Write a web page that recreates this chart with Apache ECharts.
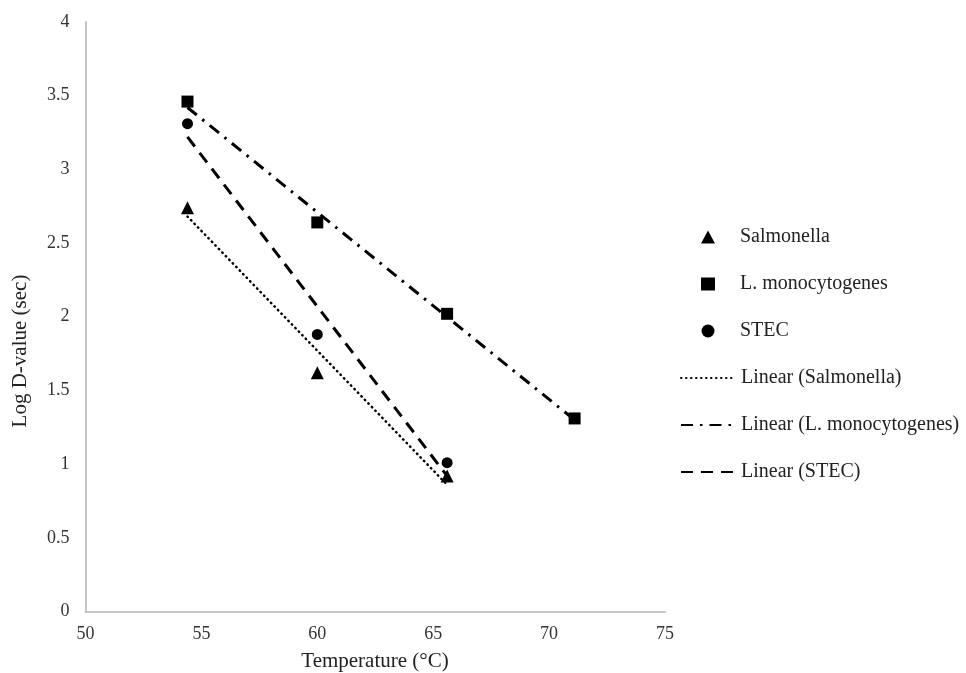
<!DOCTYPE html>
<html><head><meta charset="utf-8">
<script src="https://cdn.jsdelivr.net/npm/echarts@6/dist/echarts.min.js"></script>
<style>html,body{margin:0;padding:0;background:#fff}#c{width:966px;height:673px}</style>
</head><body><div id="c"></div>
<script>
// Observed data (Temperature °C, Log D-value sec)
const salmonellaTemp = [54.4, 60.0, 65.6];
const salmonellaLogD = [2.74, 1.62, 0.92];
const listeriaTemp = [54.4, 60.0, 65.6, 71.1];
const listeriaLogD = [3.46, 2.64, 2.02, 1.31];
const stecTemp = [54.4, 60.0, 65.6];
const stecLogD = [3.31, 1.88, 1.01];
// Linear trend line endpoints
const salmonellaTrendTemp = [54.4, 65.6];
const salmonellaTrendLogD = [2.68, 0.86];
const listeriaTrendTemp = [54.4, 71.1];
const listeriaTrendLogD = [3.42, 1.30];
const stecTrendTemp = [54.4, 65.6];
const stecTrendLogD = [3.22, 0.92];
const seriesNames = ['Salmonella', 'L. monocytogenes', 'STEC',
  'Linear (Salmonella)', 'Linear (L. monocytogenes)', 'Linear (STEC)'];
const xTitle = 'Temperature (°C)';
const yTitle = 'Log D-value (sec)';

const zip = (xs, ys) => xs.map((x, i) => [x, ys[i]]);
const font = '"Liberation Serif", "Times New Roman", serif';
const chart = echarts.init(document.getElementById('c'));
chart.setOption({
  animation: false,
  textStyle: { fontFamily: font },
  grid: { left: 85.5, right: 301, top: 22, bottom: 61.5, containLabel: false, outerBoundsMode: 'none' },
  graphic: [{
    type: 'text', x: 20, y: 351, rotation: Math.PI / 2,
    style: { text: yTitle, font: '21px ' + font, fill: '#222', align: 'center', verticalAlign: 'middle' }
  }, {
    type: 'text', x: 375, y: 661,
    style: { text: xTitle, font: '21px ' + font, fill: '#222', align: 'center', verticalAlign: 'middle' }
  }],
  xAxis: {
    type: 'value', min: 50, max: 75, interval: 5,
    axisLine: { lineStyle: { color: '#c4c4c4', width: 2 } },
    axisTick: { show: false },
    splitLine: { show: false },
    axisLabel: { fontFamily: font, fontSize: 18, color: '#333', margin: 14 }
  },
  yAxis: {
    type: 'value', min: 0, max: 4, interval: 0.5,
    axisLine: { show: true, lineStyle: { color: '#c4c4c4', width: 2 } },
    axisTick: { show: false },
    splitLine: { show: false },
    axisLabel: { fontFamily: font, fontSize: 18, color: '#333', margin: 16 }
  },
  legend: [{
    orient: 'vertical', left: 696, top: 222,
    itemWidth: 14, itemHeight: 13, itemGap: 27,
    data: seriesNames.slice(0, 3),
    textStyle: { fontFamily: font, fontSize: 20, color: '#222', padding: [0, 0, 0, 20] }
  }, {
    orient: 'vertical', left: 675, top: 363,
    itemWidth: 55, itemHeight: 13, itemGap: 27,
    data: seriesNames.slice(3),
    itemStyle: { opacity: 0 },
    textStyle: { fontFamily: font, fontSize: 20, color: '#222' }
  }],
  series: [
    { name: seriesNames[0], type: 'scatter', symbol: 'triangle', symbolSize: 13,
      itemStyle: { color: '#000', opacity: 1 }, data: zip(salmonellaTemp, salmonellaLogD) },
    { name: seriesNames[1], type: 'scatter', symbol: 'rect', symbolSize: 12,
      itemStyle: { color: '#000', opacity: 1 }, data: zip(listeriaTemp, listeriaLogD) },
    { name: seriesNames[2], type: 'scatter', symbol: 'circle', symbolSize: 11,
      itemStyle: { color: '#000', opacity: 1 }, data: zip(stecTemp, stecLogD) },
    { name: seriesNames[3], type: 'line', symbol: 'none', z: 1,
      itemStyle: { color: '#000' },
      lineStyle: { color: '#000', width: 2.5, type: [0.5, 4.5], cap: 'round', opacity: 1 },
      data: zip(salmonellaTrendTemp, salmonellaTrendLogD) },
    { name: seriesNames[4], type: 'line', symbol: 'none', z: 1,
      itemStyle: { color: '#000' },
      lineStyle: { color: '#000', width: 3, type: [12, 7, 2.5, 7], opacity: 1 },
      data: zip(listeriaTrendTemp, listeriaTrendLogD) },
    { name: seriesNames[5], type: 'line', symbol: 'none', z: 1,
      itemStyle: { color: '#000' },
      lineStyle: { color: '#000', width: 3, type: [12, 8], opacity: 1 },
      data: zip(stecTrendTemp, stecTrendLogD) }
  ]
});
</script></body></html>
